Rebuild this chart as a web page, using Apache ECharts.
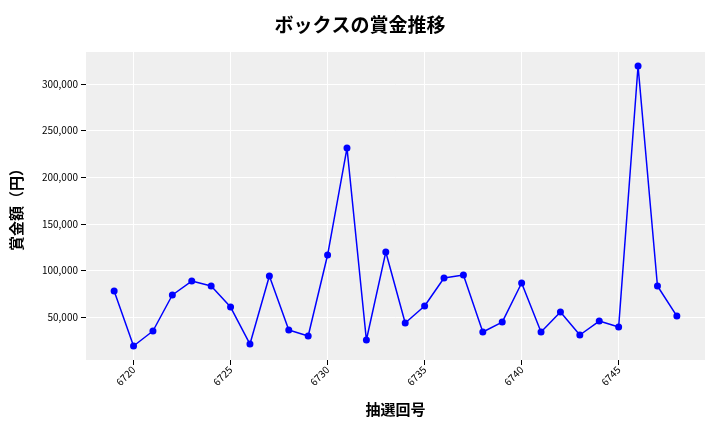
<!DOCTYPE html><html><head><meta charset="utf-8"><script src="https://cdn.jsdelivr.net/npm/echarts@6/dist/echarts.min.js"></script></head><body style="margin:0"><div id="c" style="width:720px;height:432px"></div><script>
const rounds=[];for(let r=6719;r<=6748;r++)rounds.push(r);
const prizes=[78000,18900,35000,73600,88600,83300,60700,21000,94000,36000,29600,116500,231300,25300,119700,43600,61800,91800,95100,33900,44600,86500,33900,55400,30700,45700,39300,319300,83300,51000];
const xTicks=[6720,6725,6730,6735,6740,6745];
const yTicks=[50000,100000,150000,200000,250000,300000];
const f='Noto Sans CJK JP';
const ch=echarts.init(document.getElementById('c'));
ch.setOption({
title:{text:'ボックスの賞金推移',left:'center',top:10,textStyle:{fontFamily:f,fontSize:19,fontWeight:'bold',color:'#000'}},
grid:{left:86,right:15,top:52,bottom:72,backgroundColor:'#efefef',show:true,borderWidth:0},
xAxis:{type:'value',min:6717.55,max:6749.45,name:'抽選回号',nameLocation:'middle',nameGap:42,nameTextStyle:{fontFamily:f,fontSize:15,fontWeight:'bold',color:'#000'},
axisLine:{show:false},axisTick:{customValues:xTicks,lineStyle:{color:'#000'}},
axisLabel:{customValues:xTicks,rotate:45,fontFamily:f,fontSize:10,color:'#000',formatter:v=>String(v)},
splitLine:{show:true,customValues:xTicks,lineStyle:{color:'#fff',width:1}}},
yAxis:{type:'value',min:3880,max:334320,name:'賞金額（円）',nameLocation:'middle',nameGap:62,nameTextStyle:{fontFamily:f,fontSize:15,fontWeight:'bold',color:'#000'},
axisLine:{show:false},axisTick:{show:true,customValues:yTicks,lineStyle:{color:'#000'}},
axisLabel:{customValues:yTicks,fontFamily:f,fontSize:10,color:'#000',formatter:v=>v.toLocaleString('en-US')},
splitLine:{show:true,customValues:yTicks,lineStyle:{color:'#fff',width:1}}},
series:[{type:'line',data:rounds.map((r,i)=>[r,prizes[i]]),color:'#0000ff',symbol:'circle',symbolSize:7,lineStyle:{width:1.5},itemStyle:{color:'#0000ff'}}],
animation:false});
</script></body></html>
